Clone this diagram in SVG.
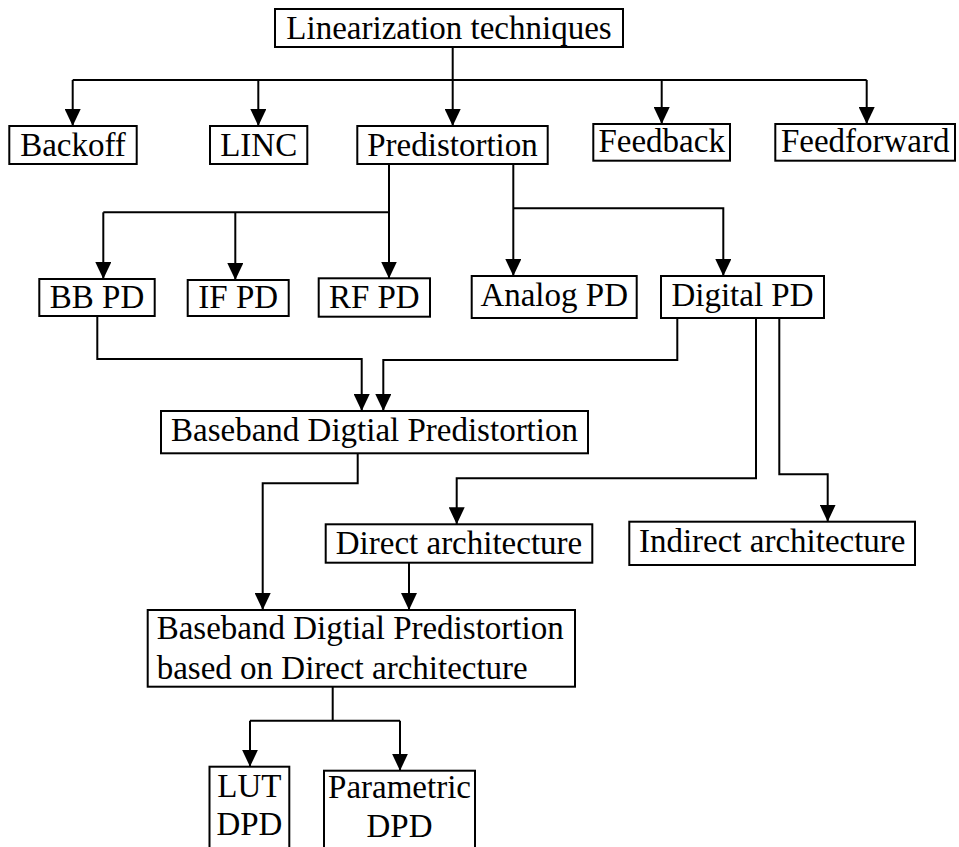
<svg xmlns="http://www.w3.org/2000/svg" width="959" height="847" viewBox="0 0 959 847">
<style>
.box{fill:#fff;stroke:#000;stroke-width:2}
.t{font-family:"Liberation Serif","Times New Roman",serif;font-size:33px;fill:#000;text-anchor:middle}
.tl{text-anchor:start}
.c path{fill:none;stroke:#000;stroke-width:2}
</style>
<defs>
<marker id="ah" viewBox="0 0 17 16" refX="17" refY="8" markerWidth="17" markerHeight="16" markerUnits="userSpaceOnUse" orient="auto">
<path d="M0,0 L17,8 L0,16 Z" fill="#000"/>
</marker>
</defs>
<rect width="959" height="847" fill="#fff"/>
<g class="c" id="connectors">
<path d="M452.7,47 V126" marker-end="url(#ah)"/>
<path d="M72.7,80 H866.7"/>
<path d="M72.7,80 V126" marker-end="url(#ah)"/>
<path d="M258.3,80 V126" marker-end="url(#ah)"/>
<path d="M661.7,80 V124" marker-end="url(#ah)"/>
<path d="M866.7,80 V124" marker-end="url(#ah)"/>
<path d="M389,164 V278.5" marker-end="url(#ah)"/>
<path d="M103.3,212.3 H389"/>
<path d="M103.3,212.3 V279" marker-end="url(#ah)"/>
<path d="M235.3,212.3 V280" marker-end="url(#ah)"/>
<path d="M513.3,164 V276" marker-end="url(#ah)"/>
<path d="M513.3,208.3 H723.3 V276" marker-end="url(#ah)"/>
<path d="M97.3,316 V359 H361.7 V411" marker-end="url(#ah)"/>
<path d="M677.3,318 V360 H383.3 V411" marker-end="url(#ah)"/>
<path d="M756,318 V478.3 H456.7 V524.3" marker-end="url(#ah)"/>
<path d="M779.3,318 V474.3 H827.7 V521.7" marker-end="url(#ah)"/>
<path d="M357.7,453 V483.3 H262.7 V610" marker-end="url(#ah)"/>
<path d="M409,562.7 V610" marker-end="url(#ah)"/>
<path d="M332.7,686.7 V720.7"/>
<path d="M250,720.7 H400"/>
<path d="M250,720.7 V766.7" marker-end="url(#ah)"/>
<path d="M400,720.7 V770.7" marker-end="url(#ah)"/>
</g>
<g id="linearization"><rect class="box" x="275" y="9" width="348" height="38"/><text class="t" x="449" y="39">Linearization techniques</text></g>
<g id="backoff"><rect class="box" x="9.3" y="126" width="127.4" height="38"/><text class="t" x="73" y="156">Backoff</text></g>
<g id="linc"><rect class="box" x="210" y="126" width="97.3" height="38"/><text class="t" x="258.7" y="156">LINC</text></g>
<g id="predistortion"><rect class="box" x="357.3" y="126" width="190.4" height="38"/><text class="t" x="452.5" y="156">Predistortion</text></g>
<g id="feedback"><rect class="box" x="593.3" y="124" width="136.7" height="36.7"/><text class="t" x="661.7" y="152">Feedback</text></g>
<g id="feedforward"><rect class="box" x="775.3" y="124" width="179.7" height="36.7"/><text class="t" x="865.2" y="152">Feedforward</text></g>
<g id="bbpd"><rect class="box" x="39.3" y="279" width="115.4" height="37"/><text class="t" x="97" y="308.3">BB PD</text></g>
<g id="ifpd"><rect class="box" x="187.7" y="280" width="101" height="36"/><text class="t" x="238.2" y="308.3">IF PD</text></g>
<g id="rfpd"><rect class="box" x="318.7" y="278.3" width="111.3" height="38.4"/><text class="t" x="374.3" y="308.3">RF PD</text></g>
<g id="analogpd"><rect class="box" x="471.7" y="276" width="165" height="42"/><text class="t" x="554.2" y="306">Analog PD</text></g>
<g id="digitalpd"><rect class="box" x="661" y="276" width="163" height="42"/><text class="t" x="742.5" y="306">Digital PD</text></g>
<g id="bbdpd"><rect class="box" x="161" y="411" width="427" height="42.3"/><text class="t" x="374.5" y="440.7">Baseband Digtial Predistortion</text></g>
<g id="direct"><rect class="box" x="325.7" y="524.3" width="266.6" height="38.4"/><text class="t" x="459" y="554">Direct architecture</text></g>
<g id="indirect"><rect class="box" x="629.3" y="521.7" width="285.7" height="43.3"/><text class="t" x="772.2" y="551.7">Indirect architecture</text></g>
<g id="bbdpd-direct"><rect class="box" x="147.7" y="610" width="427.3" height="76.7"/><text class="t tl" x="156.7" y="639">Baseband Digtial Predistortion</text><text class="t tl" x="156.7" y="679.3">based on Direct architecture</text></g>
<g id="lutdpd"><rect class="box" x="209.5" y="766.7" width="79.8" height="90"/><text class="t" x="249.4" y="796.7">LUT</text><text class="t" x="249.4" y="835">DPD</text></g>
<g id="parametricdpd"><rect class="box" x="324" y="770.7" width="151" height="90"/><text class="t" x="399.5" y="798">Parametric</text><text class="t" x="399.5" y="837">DPD</text></g>
</svg>
